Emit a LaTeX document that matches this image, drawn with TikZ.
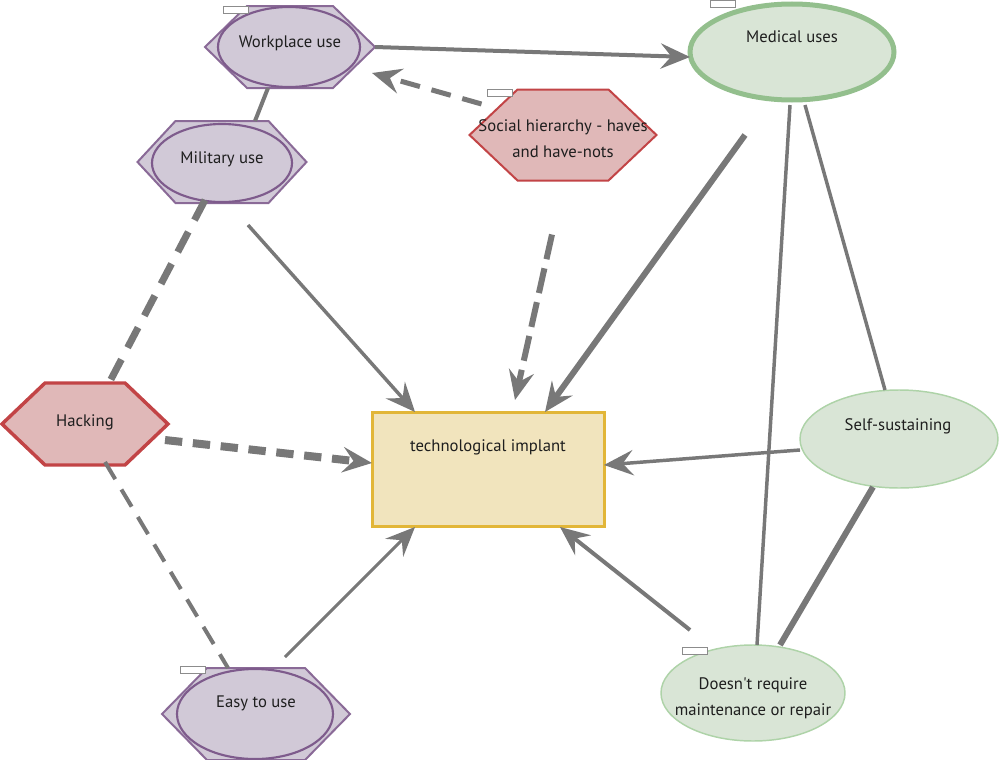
\documentclass[tikz,border=0pt]{standalone}
\usepackage{fontspec}
\setmainfont{PT Sans}
\usetikzlibrary{arrows.meta,calc,shapes.geometric}

\definecolor{linegray}{HTML}{787878}
\definecolor{purplefill}{HTML}{D1C9D7}
\definecolor{purpleline}{HTML}{8A6A97}
\definecolor{purpledark}{HTML}{7E5B8C}
\definecolor{redfill}{HTML}{E0B8B8}
\definecolor{redline}{HTML}{C24446}
\definecolor{greenfill}{HTML}{D9E5D6}
\definecolor{greenline}{HTML}{93BF8D}
\definecolor{greenlight}{HTML}{AED3A8}
\definecolor{yellowfill}{HTML}{F1E4BD}
\definecolor{yellowline}{HTML}{E2B638}
\definecolor{textdark}{HTML}{1E1E1E}
\definecolor{taggray}{HTML}{8C8C8C}

% outline of a pointed hexagon built on a (hidden) rectangular node
\newcommand\hexoutline[3]{%
  \path[#3] (#1.west) -- ($(#1.north west)+(#2,0)$) -- ($(#1.north east)+(-#2,0)$)
    -- (#1.east) -- ($(#1.south east)+(-#2,0)$) -- ($(#1.south west)+(#2,0)$) -- cycle;}

\tikzset{
  box/.style={inner sep=0pt, outer sep=0pt},
  hexframe/.style={box, draw=none, fill=none},
  purplehex/.style={fill=purplefill, draw=purpleline, line width=1.5pt, line join=miter},
  purpleell/.style={box, ellipse, draw=purpledark, line width=1.6pt},
  redhex/.style={fill=redfill, draw=redline, line join=miter},
  greenell/.style={box, ellipse, fill=greenfill},
  implant/.style={box, rectangle, fill=yellowfill, draw=yellowline, line width=2.25pt},
  caption/.style={box, text=textdark, font=\fontsize{12.5}{19.5}\selectfont, align=center},
  tag/.style={box, rectangle, fill=white, draw=taggray, line width=0.7pt,
              minimum width=18.75pt, minimum height=5.25pt},
  conn/.style={draw=linegray, line cap=butt},
  arr/.style={-{Stealth[length=22pt, width=19pt, inset=8pt]}},
}

\begin{document}
\begin{tikzpicture}[x=0.75pt, y=-0.75pt]
\useasboundingbox (0,0) rectangle (1000,760);

% ---------- hexagon nodes ----------
\node[hexframe, minimum width=127.5pt, minimum height=61.5pt] (workhex) at (290,47) {};
\hexoutline{workhex}{42}{purplehex}
\node[purpleell, minimum width=106.5pt, minimum height=60pt] (work) at (289,47) {};
\node[caption] (worktext) at (290,43) {Workplace use};

\node[hexframe, minimum width=126.75pt, minimum height=61.5pt] (milhex) at (222,162) {};
\hexoutline{milhex}{38}{purplehex}
\node[purpleell, minimum width=105pt, minimum height=58.5pt] (mil) at (222,163) {};
\node[caption] (miltext) at (222,159) {Military use};

\node[hexframe, minimum width=140.25pt, minimum height=68.25pt] (sochex) at (563,135) {};
\hexoutline{sochex}{48}{redhex, line width=1.5pt}
\node[caption] (soctext) at (563,139) {Social hierarchy - haves\\and have-nots};

\node[hexframe, minimum width=124.5pt, minimum height=61.5pt] (hackhex) at (85,424) {};
\hexoutline{hackhex}{43}{redhex, line width=2.6pt}
\node[caption] (hacktext) at (85,422) {Hacking};

\node[hexframe, minimum width=141pt, minimum height=69pt] (easyhex) at (256,714) {};
\hexoutline{easyhex}{45}{purplehex}
\node[purpleell, minimum width=117pt, minimum height=67.5pt] (easy) at (255,714) {};
\node[caption] (easytext) at (256,703) {Easy to use};

% ---------- ellipse and box nodes ----------
\node[greenell, draw=greenline, line width=3.75pt, minimum width=153pt, minimum height=72pt] (med) at (792,52) {};
\node[caption] (medtext) at (792,37) {Medical uses};

\node[greenell, draw=greenlight, line width=1.1pt, minimum width=148.5pt, minimum height=73.5pt] (self) at (899,439) {};
\node[caption] (selftext) at (898,426) {Self-sustaining};

\node[greenell, draw=greenlight, line width=1.1pt, minimum width=138pt, minimum height=72pt] (doesnt) at (753,693) {};
\node[caption] (doesnttext) at (753,698) {Doesn\textquotesingle t require\\maintenance or repair};

\node[implant, minimum width=174pt, minimum height=85.5pt] (tech) at (488,469) {};
\node[caption] (techtext) at (488,447) {technological implant};

% ---------- empty label tags ----------
\node[tag] (worktag) at (235.5,9.5) {};
\node[tag] (soctag) at (499.5,92.5) {};
\node[tag] (medtag) at (722.5,4) {};
\node[tag] (easytag) at (192.5,669.5) {};
\node[tag] (doesnttag) at (694.5,650.5) {};

% ---------- connectors ----------
\draw[conn, arr, line width=3pt] (workhex.east) -- ($(med.west)+(0,5)$);
\draw[conn, arr, line width=3.75pt, dash pattern=on 15pt off 9pt]
  ($(sochex.west)+(12,-31)$) -- ($(workhex.east)+(-3,26)$);
\draw[conn, line width=3pt] ($(workhex.south)+(-22,0)$) -- ($(milhex.north)+(33,0)$);
\draw[conn, arr, line width=2.6pt] ($(milhex.south)+(26,22)$) -- ($(tech.north west)+(43,0)$);
\draw[conn, line width=5.25pt, dash pattern=on 17pt off 10pt]
  ($(milhex.south)+(-17,-3)$) -- ($(hackhex.north)+(23,2)$);
\draw[conn, arr, line width=4.5pt, dash pattern=on 19pt off 7pt]
  ($(sochex.south)+(-11,54)$) -- ($(tech.north)+(27,-12)$);
\draw[conn, arr, line width=4.5pt] ($(med.south)+(-47,35)$) -- ($(tech.north)+(57,0)$);
\draw[conn, line width=2.6pt] ($(med.south)+(-2,5)$) -- ($(doesnt.north)+(4,0)$);
\draw[conn, line width=2.6pt] ($(med.south)+(13,5)$) -- ($(self.north)+(-14,0)$);
\draw[conn, arr, line width=6pt, dash pattern=on 13pt off 8pt]
  ($(hackhex.east)+(-3,16)$) -- ($(tech.west)+(0,-6)$);
\draw[conn, line width=3pt, dash pattern=on 15pt off 9pt]
  ($(hackhex.south)+(20,-3)$) -- ($(easyhex.north)+(-28,0)$);
\draw[conn, arr, line width=2.6pt] ($(self.west)+(0,11)$) -- ($(tech.east)+(0,-4)$);
\draw[conn, line width=4.5pt] ($(self.south)+(-26,-1)$) -- ($(doesnt.north)+(27,0)$);
\draw[conn, arr, line width=2.25pt] ($(easyhex.north)+(29,-11)$) -- ($(tech.south)+(-73,1)$);
\draw[conn, arr, line width=3pt] ($(doesnt.north)+(-63,-15)$) -- ($(tech.south)+(72,1)$);
\end{tikzpicture}
\end{document}
